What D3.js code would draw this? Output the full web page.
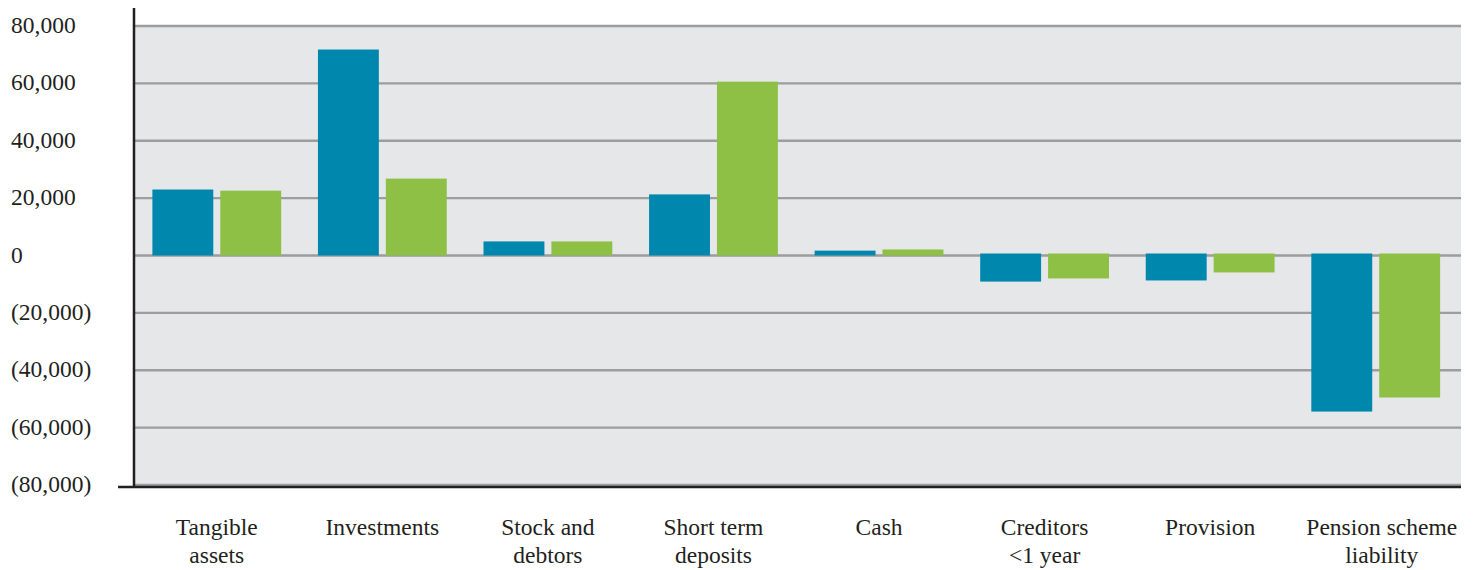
<!DOCTYPE html>
<html>
<head>
<meta charset="utf-8">
<script src="https://cdn.jsdelivr.net/npm/d3@7"></script>
<style>
  body { margin: 0; background: #fff; }
  svg text { font-family: "Liberation Serif", "DejaVu Serif", serif; fill: #231f20; }
</style>
</head>
<body>
<svg width="1479" height="570"></svg>
<script>
// chart data
var categories = [
  ["Tangible", "assets"],
  ["Investments"],
  ["Stock and", "debtors"],
  ["Short term", "deposits"],
  ["Cash"],
  ["Creditors", "<1 year"],
  ["Provision"],
  ["Pension scheme", "liability"]
];
var seriesA = [23000, 71800, 4900, 21300, 1700, -9100, -8700, -54400];
var seriesB = [22600, 26800, 4900, 60600, 2100, -8000, -5900, -49500];
var yTicks = [80000, 60000, 40000, 20000, 0, -20000, -40000, -60000, -80000];

var svg = d3.select("svg"),
    margin = {top: 26, right: 18, bottom: 85, left: 134},
    width = 1479 - margin.left - margin.right,
    height = 570 - margin.top - margin.bottom,
    g = svg.append("g").attr("transform", "translate(" + margin.left + "," + margin.top + ")");

var x0 = d3.scaleBand()
    .domain(d3.range(categories.length))
    .range([0, width - 2.5])
    .paddingInner(0.222)
    .paddingOuter(0.111);

var x1 = d3.scaleBand()
    .domain([0, 1])
    .range([0, x0.bandwidth()])
    .paddingInner(0.103);

var y = d3.scaleLinear().domain([-80000, 80000]).range([height, 0]);

var colors = ["#0087ad", "#8dc044"];

var fmt = function(v) {
  var s = d3.format(",")(Math.abs(v));
  return v < 0 ? "(" + s + ")" : s;
};

// plot background
g.append("rect")
    .attr("x", 0).attr("y", 0)
    .attr("width", width).attr("height", height)
    .attr("fill", "#e6e7e9");

// gridlines
g.append("g")
    .selectAll("line")
    .data(yTicks)
    .enter().append("line")
      .attr("x1", 0).attr("x2", width)
      .attr("y1", function(d) { return y(d); })
      .attr("y2", function(d) { return y(d); })
      .style("stroke", "#9d9d9e")
      .style("stroke-width", 2.4);

// bars
var rows = categories.map(function(c, i) { return [seriesA[i], seriesB[i]]; });

var grp = g.selectAll(".grp")
  .data(rows)
  .enter().append("g")
    .attr("class", "grp")
    .attr("transform", function(d, i) { return "translate(" + x0(i) + ",0)"; });

grp.selectAll("rect")
  .data(function(d) { return d; })
  .enter().append("rect")
    .attr("x", function(d, j) { return x1(j); })
    .attr("width", x1.bandwidth())
    .attr("y", function(d) { return d >= 0 ? y(d) : y(0) - 2; })
    .attr("height", function(d) { return d >= 0 ? y(0) - y(d) : y(d) - y(0) + 2; })
    .attr("fill", function(d, j) { return colors[j]; });

// y axis labels (left aligned)
svg.append("g")
  .selectAll("text")
  .data(yTicks)
  .enter().append("text")
    .attr("x", 11)
    .attr("y", function(d) { return margin.top + y(d); })
    .attr("dy", "0.3em")
    .style("font-size", "23.5px")
    .text(fmt);

// axis lines
svg.append("line")
    .attr("x1", margin.left).attr("x2", margin.left)
    .attr("y1", 8).attr("y2", margin.top + height + 2)
    .style("stroke", "#231f20").style("stroke-width", 2.5);

svg.append("line")
    .attr("x1", 118).attr("x2", margin.left + width)
    .attr("y1", margin.top + height + 2).attr("y2", margin.top + height + 2)
    .style("stroke", "#231f20").style("stroke-width", 2.5);

// category labels
var lab = svg.append("g")
  .selectAll("text")
  .data(categories)
  .enter().append("text")
    .attr("text-anchor", "middle")
    .attr("x", function(d, i) { return margin.left + x0(i) + x0.bandwidth() / 2 + (i === categories.length - 1 ? 6 : 0); })
    .attr("y", 535)
    .style("font-size", "23.5px");

lab.selectAll("tspan")
  .data(function(d) { return d; })
  .enter().append("tspan")
    .attr("x", function() { return d3.select(this.parentNode).attr("x"); })
    .attr("dy", function(d, i) { return i === 0 ? 0 : 28; })
    .text(function(d) { return d; });
</script>
</body>
</html>
